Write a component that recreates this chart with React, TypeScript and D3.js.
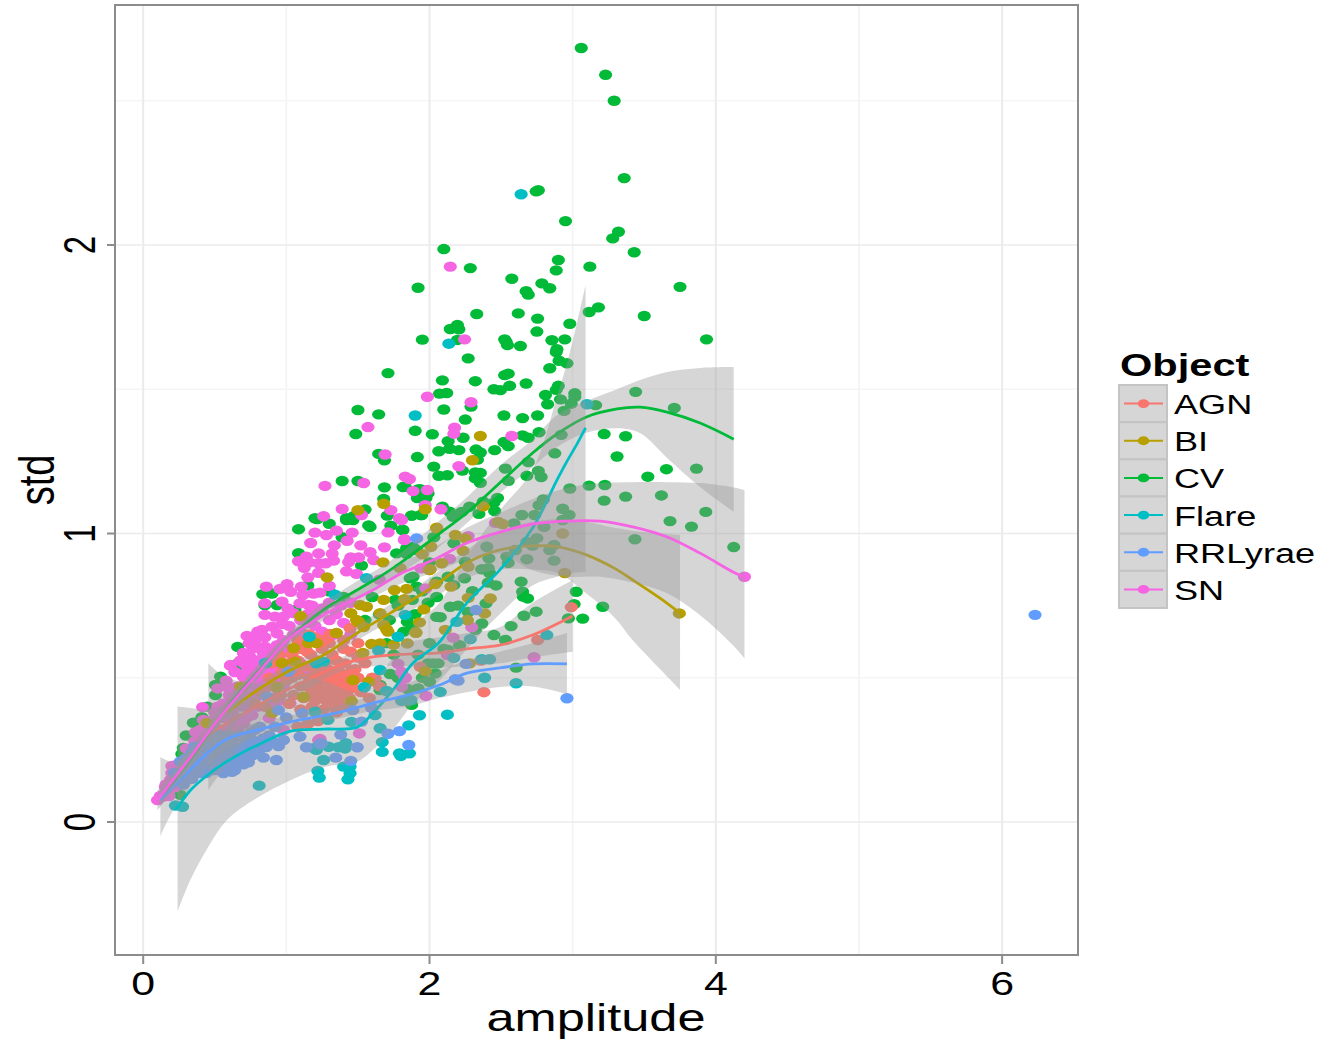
import * as d3 from "d3";

const WIDTH = 1326;
const HEIGHT = 1040;
const PANEL = { left: 115, right: 1078, top: 5, bottom: 955 };
const FONT = '"Liberation Sans", Arial, sans-serif';

const X_DOMAIN = [-0.197, 6.53];
const Y_DOMAIN = [-0.461, 2.832];
const X_MAJOR = [0, 2, 4, 6];
const X_MINOR = [1, 3, 5];
const Y_MAJOR = [0, 1, 2];
const Y_MINOR = [0.5, 1.5, 2.5];

const CLASSES = ["AGN", "BI", "CV", "Flare", "RRLyrae", "SN"];
const COLORS = ["#F8766D", "#B79F00", "#00BA38", "#00BFC4", "#619CFF", "#F564E3"];

type Pt = [number, number];

const CV_POINTS: Pt[] = [
  [3.06,2.683],[3.23,2.59],[3.29,2.5],[3.36,2.232],[2.76,2.19],[2.745,2.186],[2.95,2.083],[3.32,2.046],[3.28,2.023],[3.43,1.975],
  [2.9,1.948],[2.885,1.912],[3.12,1.925],[2.575,1.883],[2.785,1.867],[2.84,1.85],[2.675,1.84],[2.69,1.828],[3.75,1.855],[2.62,1.763],
  [2.755,1.745],[2.98,1.727],[3.115,1.768],[3.18,1.784],[3.5,1.754],[2.75,1.7],[3.935,1.673],[2.855,1.67],[2.945,1.673],[2.525,1.673],
  [2.1,1.986],[2.285,1.92],[1.92,1.852],[2.33,1.761],[2.195,1.723],[2.145,1.709],[2.205,1.708],[1.95,1.672],[2.195,1.671],[2.545,1.653],
  [2.535,1.665],[2.635,1.65],[2.89,1.639],[2.885,1.629],[2.27,1.607],[2.905,1.599],[2.96,1.59],[2.84,1.573],[2.09,1.531],[2.32,1.528],
  [2.525,1.549],[2.55,1.554],[2.675,1.52],[2.56,1.512],[2.45,1.5],[2.495,1.497],[2.07,1.485],[2.12,1.487],[2.9,1.512],[2.885,1.498],
  [2.81,1.48],[3.015,1.486],[3.015,1.474],[2.915,1.465],[2.99,1.45],[2.825,1.448],[2.94,1.425],[3.16,1.445],[3.44,1.491],[3.71,1.435],
  [2.29,1.44],[2.1,1.43],[2.25,1.395],[2.52,1.409],[2.65,1.4],[2.755,1.409],[1.9,1.356],[2.02,1.344],[2.235,1.332],[2.65,1.34],
  [2.69,1.332],[2.765,1.351],[2.92,1.342],[3.22,1.345],[3.37,1.337],[2.13,1.32],[2.14,1.294],[2.205,1.289],[2.065,1.285],[2.325,1.291],
  [2.355,1.281],[2.455,1.289],[2.52,1.317],[2.55,1.303],[2.875,1.278],[3.31,1.267],[2.335,1.256],[1.915,1.265],[2.03,1.232],[2.23,1.218],
  [2.53,1.225],[2.69,1.248],[2.76,1.217],[2.68,1.2],[2.78,1.196],[2.55,1.183],[2.065,1.2],[2.125,1.202],[2.32,1.212],[2.355,1.21],
  [2.32,1.191],[2.355,1.176],[3.655,1.223],[3.865,1.225],[3.525,1.197],[2.98,1.156],[3.115,1.166],[3.225,1.168],[3.22,1.114],[3.37,1.128],
  [3.62,1.132],[3.93,1.075],[3.68,1.043],[3.83,1.024],[2.795,1.118],[2.765,1.098],[2.93,1.086],[2.975,1.064],[2.93,1.047],[2.735,1.064],
  [2.645,1.064],[2.59,1.035],[2.475,1.123],[2.45,1.107],[2.375,1.11],[2.455,1.078],[2.345,1.068],[2.28,1.093],[2.225,1.075],[2.165,1.058],
  [2.14,1.076],[2.09,1.093],[1.875,1.062],[1.94,1.064],[1.99,1.139],[1.92,1.153],[1.915,1.123],[1.825,1.162],[1.815,1.012],[1.5,1.428],
  [1.645,1.413],[1.485,1.345],[1.645,1.276],[1.685,1.254],[1.71,1.556],[1.39,1.182],[1.5,1.182],[1.685,1.16],[1.83,1.162],[1.68,1.12],
  [1.55,1.083],[1.2,1.053],[1.42,1.053],[1.47,1.06],[1.705,1.062],[1.085,1.015],[1.215,1.05],[1.3,1.034],[1.42,1.047],[1.465,1.047],
  [1.575,1.028],[1.39,0.987],[1.085,0.932],[1.525,0.889],[0.835,0.79],[0.9,0.792],[0.85,0.752],[0.935,0.752],[0.66,0.607],[0.665,0.544],
  [0.665,0.551],[0.505,0.475],[0.505,0.44],[0.54,0.504],[0.41,0.363],[0.35,0.344],[0.28,0.257],[0.27,0.236],[0.26,0.094],[1.06,0.735],
  [3.435,0.98],[4.125,0.953],[2.87,0.96],[2.87,0.906],[2.68,0.911],[2.84,0.943],[2.72,0.958],[2.8,1.023],[2.75,0.984],[2.68,0.971],
  [2.4,0.954],[2.415,0.914],[2.54,0.92],[2.55,0.898],[2.6,0.943],[2.365,0.876],[2.41,0.88],[2.42,0.863],[2.64,0.833],[2.465,0.82],
  [2.41,0.83],[3.025,0.798],[3.01,0.755],[3.21,0.746],[3.07,0.705],[2.97,0.706],[2.65,0.798],[2.655,0.781],[2.685,0.775],[2.66,0.715],
  [2.745,0.729],[2.57,0.679],[2.45,0.648],[2.53,0.631],[2.605,0.535],[2.145,0.746],[2.075,0.71],[2.03,0.987],[2.17,0.966],[2.25,0.902],
  [2.245,0.845],[2.17,0.821],[2.13,0.85],[1.885,0.85],[1.865,0.845],[2.05,0.833],[1.99,0.76],[1.88,0.671],[1.845,0.694],[2.27,0.728],
  [2.395,0.758],[2.365,0.688],[2.32,0.666],[2.06,0.55],[2.025,0.55],[1.99,0.55],[2.04,0.515],[2.0,0.486],[1.875,0.406],[2.21,0.613],
  [2.13,0.596],[1.655,0.457],[1.92,0.463],[1.725,0.513],[1.77,0.931],[1.84,0.949],[1.91,0.943],[1.91,0.816],[1.76,0.77],[2.05,0.711],
  [1.655,0.475],[1.19,0.44],[1.875,1.062],[1.945,1.064],[1.73,1.027],[1.81,1.013],[1.585,1.023],[1.935,1.154],[1.975,1.123],[1.815,1.161],
  [1.885,0.953],[1.84,0.93],[1.6,0.78],[1.65,0.72],[1.72,0.7],[1.78,0.75],[1.82,0.66],[1.9,0.72],[1.55,0.7],[1.95,0.8],
  [1.88,0.77],[2.0,0.9],[1.7,0.62],[1.75,0.58],[1.78,0.5],[1.85,0.46],[1.95,0.5],[1.92,0.58],[2.0,0.62],[2.1,0.6],
  [2.05,0.78],[2.2,0.75],[2.3,0.8],[1.15,0.82],[1.3,0.8],[1.4,0.78],[0.45,0.4],[0.3,0.3],
];

const SN_POINTS: Pt[] = [
  [2.145,1.925],[2.245,1.673],[1.985,1.474],[2.29,1.455],[2.175,1.367],[2.17,1.346],[2.575,1.338],[2.205,1.233],[1.885,1.147],[1.985,1.151],
  [1.83,1.197],[1.86,1.189],[1.97,1.098],[2.08,1.084],[2.46,1.037],[1.57,1.369],[1.69,1.274],[1.54,1.175],[1.27,1.165],[1.73,1.081],
  [1.39,1.085],[1.525,1.064],[1.26,1.06],[1.79,1.053],[1.2,1.003],[1.35,1.01],[1.28,0.995],[1.46,1.003],[1.425,0.975],[1.17,0.967],
  [1.335,0.959],[1.52,0.959],[1.225,0.931],[1.32,0.93],[1.585,0.935],[1.14,0.92],[1.45,0.917],[1.505,0.917],[1.085,0.904],[1.16,0.9],
  [1.225,0.897],[1.275,0.897],[1.33,0.906],[1.435,0.901],[1.61,0.908],[1.125,0.881],[1.225,0.864],[1.42,0.869],[1.49,0.86],[1.15,0.848],
  [1.3,0.818],[0.86,0.816],[0.955,0.808],[1.005,0.824],[1.03,0.798],[1.105,0.816],[1.115,0.787],[1.19,0.792],[1.235,0.795],[0.85,0.758],
  [0.97,0.764],[1.095,0.758],[1.01,0.74],[1.155,0.752],[0.85,0.718],[0.92,0.712],[0.98,0.712],[1.05,0.724],[0.83,0.666],[0.9,0.677],
  [0.97,0.686],[0.725,0.645],[0.78,0.631],[0.85,0.64],[0.935,0.654],[0.71,0.579],[0.77,0.602],[0.85,0.608],[0.61,0.542],[0.7,0.551],
  [0.745,0.573],[0.415,0.398],[0.52,0.463],[0.61,0.544],[0.2,0.194],[0.3,0.255],[0.365,0.311],[0.42,0.354],[0.48,0.342],[0.585,0.469],
  [0.155,0.122],[0.1,0.076],[0.14,0.088],[0.19,0.146],[0.27,0.192],[0.305,0.222],[0.435,0.308],[0.515,0.365],[0.56,0.411],[0.655,0.469],
  [0.7,0.503],[0.745,0.561],[0.745,0.516],[0.84,0.527],[0.91,0.573],[1.03,0.586],[0.84,0.586],[0.7,0.586],[0.795,0.608],[0.935,0.613],
  [1.095,0.613],[0.865,0.482],[0.98,0.469],[1.21,0.561],[1.145,0.516],[1.235,0.504],[0.885,0.412],[1.025,0.412],[1.235,0.288],[0.875,0.278],
  [0.98,0.319],[1.2,0.68],[1.25,0.66],[1.3,0.7],[1.33,0.65],[1.15,0.69],[1.1,0.66],[1.35,0.72],[1.4,0.69],[1.45,0.65],
  [1.3,0.64],[1.825,0.977],[1.94,0.879],[2.14,0.912],[2.27,0.991],[1.975,0.81],[1.805,1.047],[1.83,0.498],[1.975,0.437],[1.71,1.004],
  [1.825,0.98],[1.685,0.952],[2.295,0.675],[2.165,0.639],[2.73,0.571],[2.125,0.579],[1.51,0.307],[1.225,0.284],[1.805,0.469],[1.805,0.52],
  [1.83,0.501],[1.78,0.548],[4.2,0.85],[1.65,0.84],
  [0.2,0.14],[0.24,0.17],[0.28,0.2],[0.33,0.2],[0.38,0.27],[0.42,0.3],[0.47,0.32],[0.5,0.38],[0.54,0.36],[0.58,0.4],
  [0.6,0.44],[0.64,0.42],[0.68,0.47],[0.72,0.48],[0.75,0.53],[0.8,0.5],[0.83,0.55],[0.88,0.55],[0.92,0.6],[0.96,0.58],
  [1.0,0.6],[1.05,0.65],[1.1,0.63],[1.15,0.72],[1.2,0.72],[1.25,0.74],[1.3,0.76],[1.38,0.75],[1.45,0.76],[0.6,0.33],
  [0.66,0.36],[0.72,0.4],[0.78,0.43],[0.84,0.45],[0.92,0.52],[0.5,0.28],[0.44,0.26],[0.38,0.22],[0.3,0.18],[0.25,0.13],
  [0.18,0.11],[0.22,0.12],[0.12,0.09],[0.15,0.1],[0.7,0.34],[0.55,0.32],[0.62,0.38],[0.76,0.37],[0.8,0.66],[0.74,0.62],
  [0.68,0.56],[0.64,0.52],[0.58,0.49],[0.7,0.44],[0.78,0.47],[0.85,0.44],[0.9,0.48],[0.95,0.5],[0.75,0.41],[0.65,0.42],
  [0.88,0.36],[0.95,0.42],[1.05,0.52],[1.1,0.55],[1.0,0.54],
  [0.16,0.13],[0.2,0.17],[0.24,0.2],[0.26,0.16],[0.3,0.22],[0.34,0.25],[0.36,0.28],[0.4,0.28],[0.4,0.32],[0.45,0.35],
  [0.46,0.29],[0.5,0.33],[0.52,0.4],[0.55,0.38],[0.58,0.36],[0.6,0.4],[0.63,0.46],[0.66,0.44],[0.68,0.4],[0.7,0.47],
  [0.72,0.52],[0.74,0.44],[0.78,0.53],[0.8,0.56],[0.82,0.49],[0.86,0.52],[0.88,0.6],[0.9,0.58],[0.94,0.55],[0.98,0.63],
  [1.02,0.68],[1.06,0.6],[1.1,0.7],[1.18,0.75],[0.62,0.34],[0.66,0.32],[0.72,0.36],[0.8,0.4],[0.86,0.4],[0.54,0.3],
  [0.48,0.26],[0.43,0.23],[0.36,0.2],[0.18,0.09],
];

const AGN_POINTS: Pt[] = [
  [1.38,0.49],[1.41,0.47],[1.44,0.46],[1.36,0.47],[1.3,0.46],[1.33,0.45],[1.47,0.49],[1.5,0.5],[1.43,0.51],[1.35,0.5],
  [1.28,0.49],[1.22,0.47],[1.18,0.45],[1.25,0.44],[1.31,0.43],[1.38,0.44],[1.44,0.43],[1.16,0.5],[1.1,0.47],[1.05,0.44],
  [1.12,0.54],[1.2,0.53],[1.27,0.55],[1.35,0.56],[1.41,0.55],[1.48,0.53],[1.0,0.49],[0.94,0.46],[0.97,0.52],[1.04,0.58],
  [1.1,0.6],[1.17,0.58],[1.25,0.6],[1.32,0.58],[1.4,0.6],[1.1,0.39],[1.18,0.4],[1.26,0.39],[1.02,0.41],[0.92,0.43],
  [0.85,0.4],[0.88,0.5],[1.16,0.65],[1.2,0.64],[1.55,0.55],[1.6,0.5],[1.65,0.47],[1.52,0.45],[1.58,0.43],[1.35,0.38],
  [1.42,0.4],[1.22,0.35],[1.15,0.34],[1.08,0.33],[1.5,0.62],[1.305,0.652],[1.445,0.672],[1.145,0.59],[1.62,0.498],[1.34,0.4],
  [2.99,0.745],[2.755,0.631],[2.38,0.45],[2.36,0.56],[1.935,0.538],
  [1.3,0.5],[1.33,0.52],[1.37,0.52],[1.4,0.5],[1.45,0.52],[1.42,0.48],[1.46,0.47],[1.39,0.46],[1.34,0.48],[1.31,0.51],
  [1.26,0.51],[1.24,0.53],[1.29,0.53],[1.23,0.5],[1.19,0.48],[1.14,0.47],[1.16,0.54],[1.08,0.51],[1.04,0.5],[0.96,0.44],
  [0.9,0.47],[1.12,0.43],[1.2,0.42],[1.28,0.42],[1.36,0.42],[1.0,0.55],[1.08,0.56],[1.15,0.62],[1.25,0.63],[1.3,0.62],
  [1.08,0.63],[1.45,0.59],[1.5,0.57],[0.95,0.58],[0.9,0.55],[0.82,0.45],[0.78,0.41],[1.4,0.63],
];

const BI_POINTS: Pt[] = [
  [2.355,1.338],[2.3,1.254],[2.375,1.094],[1.97,1.084],[2.48,1.04],[2.51,1.033],[2.05,1.02],[1.68,1.103],[1.5,1.081],[1.285,0.848],
  [2.93,1.0],[2.945,0.863],[3.745,0.723],[2.27,0.777],[2.425,0.775],[2.385,0.723],[2.11,0.666],[2.265,0.7],[1.93,0.692],[1.905,0.657],
  [1.84,0.808],[1.825,0.772],[1.96,0.737],[2.15,0.816],[2.04,0.825],[2.085,0.897],[2.01,0.954],[1.95,0.928],[2.005,0.876],[2.05,1.018],
  [2.18,0.995],[2.25,0.983],[2.235,0.94],[2.27,0.885],[2.28,0.55],[1.97,0.523],[1.575,0.486],[1.455,0.419],[1.75,0.614],[1.845,0.619],
  [1.595,0.617],[1.655,0.619],[1.7,0.668],[1.505,0.694],[1.68,0.683],[1.905,0.656],[1.675,0.9],[1.795,0.88],[2.0,0.873],[1.45,0.724],
  [1.5,0.693],[1.56,0.746],[1.68,0.77],[1.515,0.752],[1.755,0.804],[1.655,0.724],[1.54,0.676],[1.71,0.66],[1.49,0.7],[1.35,0.655],
  [1.155,0.62],[1.21,0.62],[1.05,0.603],[1.06,0.556],[0.97,0.551],[0.68,0.469],[0.445,0.343],[1.12,0.434],[0.935,0.469],[0.9,0.378],
  [1.535,0.586],[1.465,0.492],[1.1,0.713],
];

const FLARE_POINTS: Pt[] = [
  [2.64,2.176],[2.135,1.658],[1.9,1.409],[3.1,1.448],[2.82,0.648],[2.605,0.481],[2.385,0.5],[2.075,0.451],[1.93,0.37],[2.125,0.372],
  [2.19,0.694],[2.285,0.634],[2.365,0.564],[2.42,0.564],[2.17,0.569],[1.84,0.423],[1.855,0.335],[1.655,0.325],[1.67,0.277],[1.67,0.243],
  [1.79,0.238],[1.8,0.229],[1.86,0.238],[1.62,0.371],[1.455,0.347],[1.415,0.273],[1.365,0.259],[1.41,0.255],[1.295,0.261],[1.21,0.25],
  [1.26,0.215],[1.445,0.192],[1.4,0.192],[1.22,0.177],[1.23,0.154],[1.445,0.169],[1.43,0.148],[1.805,0.42],[1.87,0.423],[1.545,0.467],
  [1.7,0.454],[1.78,0.642],[1.645,0.594],[1.655,0.527],[0.225,0.057],[0.275,0.053],[0.81,0.126],[1.16,0.642],[1.34,0.788],[1.21,0.55],
  [1.26,0.556],[0.855,0.551],[1.2,0.382],[1.19,0.256],[1.56,0.845],[1.83,0.718],[1.29,0.354],
];

const RR_POINTS: Pt[] = [
  [6.23,0.718],[2.96,0.429],[2.18,0.495],[2.325,0.735],[2.255,0.548],[1.91,0.983],[1.79,0.315],[1.71,0.306],[1.855,0.267],[1.525,0.348],
  [1.38,0.303],[1.495,0.259],[1.235,0.27],[1.14,0.259],[1.345,0.223],[1.45,0.212],[1.465,0.388],[1.595,0.396],[2.2,0.49],
  [0.28,0.16],[0.32,0.19],[0.36,0.22],[0.4,0.17],[0.44,0.21],[0.48,0.18],[0.52,0.2],[0.56,0.17],[0.6,0.22],[0.64,0.18],
  [0.66,0.24],[0.7,0.2],[0.72,0.27],[0.76,0.23],[0.8,0.26],[0.84,0.29],[0.26,0.21],[0.22,0.17],[0.34,0.15],[0.815,0.252],
  [0.84,0.223],[0.735,0.207],[0.93,0.215],[0.62,0.174],[0.98,0.284],[0.945,0.263],[1.015,0.521],[0.865,0.434],[0.945,0.388],[1.0,0.362],
  [1.11,0.377],[1.095,0.296],[1.245,0.273],[0.815,0.33],[0.725,0.284],[0.63,0.25],[0.56,0.284],[0.465,0.261],[0.4,0.226],[0.33,0.192],
  [0.255,0.14],[0.515,0.192],
  [0.3,0.17],[0.36,0.17],[0.42,0.19],[0.46,0.2],[0.5,0.18],[0.55,0.19],[0.58,0.2],[0.62,0.2],[0.68,0.22],[0.74,0.24],
  [0.78,0.28],[0.7,0.26],[0.64,0.26],[0.58,0.25],[0.52,0.24],[0.46,0.24],[0.4,0.25],[0.34,0.24],[0.3,0.22],[0.88,0.3],
  [0.92,0.33],[0.75,0.31],[0.68,0.3],[0.6,0.3],[0.53,0.3],[0.48,0.3],
  [0.24,0.14],[0.28,0.13],[0.32,0.16],[0.38,0.19],[0.44,0.17],[0.5,0.21],[0.56,0.22],[0.62,0.23],[0.66,0.2],[0.72,0.22],
  [0.78,0.25],[0.86,0.26],[0.9,0.28],[0.36,0.26],[0.42,0.27],[0.5,0.27],[0.56,0.26],[0.62,0.28],[0.7,0.29],[0.78,0.32],
];

// fitted smooths: amplitude, fit, lower band, upper band
const AGN_FIT = [
  [0.455,0.3,0.11,0.55],[0.585,0.343,0.2,0.5],[0.91,0.433,0.39,0.48],[1.145,0.492,0.46,0.525],[1.375,0.544,0.52,0.57],[1.605,0.572,0.54,0.605],
  [1.845,0.582,0.54,0.625],[2.07,0.586,0.535,0.64],[2.26,0.6,0.54,0.655],[2.49,0.613,0.55,0.675],[2.72,0.648,0.57,0.76],[3.0,0.714,0.59,0.839],
];
const BI_FIT = [
  [0.585,0.378,0.3,0.445],[0.8,0.458,0.43,0.485],[1.03,0.527,0.505,0.55],[1.26,0.579,0.555,0.605],[1.495,0.655,0.63,0.68],[1.725,0.724,0.695,0.755],
  [2.025,0.815,0.775,0.855],[2.26,0.898,0.845,0.945],[2.49,0.943,0.875,1.01],[2.72,0.957,0.875,1.04],[2.91,0.953,0.86,1.05],[3.1,0.925,0.79,1.04],
  [3.29,0.88,0.71,1.02],[3.42,0.839,0.63,1.01],[3.61,0.776,0.53,1.0],[3.75,0.724,0.458,0.995],
];
const CV_FIT = [
  [0.12,0.087,0.06,0.115],[0.33,0.215,0.19,0.24],[0.56,0.38,0.355,0.405],[0.8,0.52,0.495,0.545],[1.03,0.641,0.62,0.665],[1.26,0.735,0.71,0.76],
  [1.495,0.804,0.775,0.835],[1.725,0.873,0.84,0.905],[2.07,1.0,0.955,1.045],[2.26,1.071,1.036,1.125],[2.49,1.175,1.14,1.235],[2.72,1.279,1.23,1.326],
  [2.89,1.345,1.3,1.41],[3.1,1.405,1.35,1.46],[3.31,1.432,1.365,1.5],[3.47,1.438,1.348,1.532],[3.66,1.421,1.262,1.56],[3.89,1.383,1.161,1.574],[4.125,1.327,1.075,1.577],
];
const FLARE_FIT = [
  [0.24,0.05,-0.31,0.4],[0.33,0.11,-0.2,0.395],[0.45,0.163,-0.09,0.39],[0.585,0.21,0.007,0.41],[0.8,0.267,0.085,0.44],[1.03,0.315,0.145,0.5],[1.26,0.322,0.19,0.49],
  [1.495,0.329,0.21,0.45],[1.605,0.378,0.25,0.49],[1.745,0.458,0.32,0.57],[1.885,0.551,0.41,0.68],[2.07,0.624,0.49,0.76],[2.26,0.759,0.6,0.92],
  [2.49,0.873,0.72,1.08],[2.72,1.019,0.82,1.22],[2.89,1.185,0.85,1.473],[2.96,1.25,0.86,1.59],[3.03,1.31,0.865,1.73],[3.09,1.366,0.867,1.861],
];
const RR_FIT = [
  [0.12,0.076,-0.05,0.225],[0.21,0.121,0.04,0.21],[0.45,0.239,0.19,0.29],[0.585,0.288,0.25,0.325],[0.8,0.319,0.295,0.345],[1.03,0.347,0.325,0.37],
  [1.375,0.381,0.36,0.405],[1.605,0.412,0.385,0.44],[1.845,0.44,0.4,0.48],[2.07,0.475,0.43,0.525],[2.26,0.516,0.45,0.56],[2.49,0.534,0.468,0.59],
  [2.72,0.548,0.47,0.62],[2.96,0.548,0.444,0.655],
];
const SN_FIT = [
  [0.1,0.076,0.04,0.11],[0.33,0.225,0.19,0.26],[0.56,0.378,0.35,0.405],[0.8,0.516,0.495,0.54],[1.03,0.641,0.62,0.66],[1.285,0.724,0.705,0.745],
  [1.605,0.804,0.78,0.83],[1.795,0.86,0.825,0.895],[2.025,0.908,0.865,0.95],[2.26,0.967,0.91,1.02],[2.49,1.005,0.93,1.071],[2.72,1.033,0.873,1.12],
  [2.96,1.043,0.85,1.158],[3.19,1.043,0.85,1.175],[3.42,1.023,0.83,1.178],[3.66,0.988,0.793,1.178],[3.89,0.932,0.717,1.175],[4.12,0.867,0.613,1.16],[4.2,0.849,0.568,1.15],
];

// drawing order of the point layers, index into CLASSES
const POINT_LAYERS: [number, Pt[]][] = [
  [2, CV_POINTS],
  [5, SN_POINTS],
  [0, AGN_POINTS],
  [1, BI_POINTS],
  [3, FLARE_POINTS],
  [4, RR_POINTS],
];
const FITS = [AGN_FIT, BI_FIT, CV_FIT, FLARE_FIT, RR_FIT, SN_FIT];

const x = d3.scaleLinear().domain(X_DOMAIN).range([PANEL.left, PANEL.right]);
const y = d3.scaleLinear().domain(Y_DOMAIN).range([PANEL.bottom, PANEL.top]);

const fitLine = d3
  .line<number[]>()
  .x((d) => x(d[0]))
  .y((d) => y(d[1]))
  .curve(d3.curveCatmullRom.alpha(0.5));
const fitBand = d3
  .area<number[]>()
  .x((d) => x(d[0]))
  .y0((d) => y(d[2]))
  .y1((d) => y(d[3]))
  .curve(d3.curveCatmullRom.alpha(0.5));

const legendY = d3.scaleBand<string>().domain(CLASSES).range([385, 608]);

export default function App() {
  return (
    <svg
      width={WIDTH}
      height={HEIGHT}
      style={{ position: "absolute", left: 0, top: 0, display: "block" }}
      fontFamily={FONT}
    >
      <rect width={WIDTH} height={HEIGHT} fill="#fff" />
      {X_MINOR.map((t) => (
        <line key={t} x1={x(t)} x2={x(t)} y1={PANEL.top} y2={PANEL.bottom} stroke="#F5F5F5" strokeWidth={2} />
      ))}
      {Y_MINOR.map((t) => (
        <line key={t} x1={PANEL.left} x2={PANEL.right} y1={y(t)} y2={y(t)} stroke="#F5F5F5" strokeWidth={1.5} />
      ))}
      {X_MAJOR.map((t) => (
        <line key={t} x1={x(t)} x2={x(t)} y1={PANEL.top} y2={PANEL.bottom} stroke="#EBEBEB" strokeWidth={2} />
      ))}
      {Y_MAJOR.map((t) => (
        <line key={t} x1={PANEL.left} x2={PANEL.right} y1={y(t)} y2={y(t)} stroke="#EBEBEB" strokeWidth={1.5} />
      ))}

      {POINT_LAYERS.map(([index, points]) => (
        <g key={index} fill={COLORS[index]}>
          {points.map((p, i) => (
            <ellipse key={i} cx={x(p[0])} cy={y(p[1])} rx={6.6} ry={5.2} />
          ))}
        </g>
      ))}

      {FITS.map((fit, i) => (
        <g key={CLASSES[i]}>
          <path d={fitBand(fit) ?? ""} fill="#999999" fillOpacity={0.4} />
          <path d={fitLine(fit) ?? ""} fill="none" stroke={COLORS[i]} strokeWidth={2.8} />
        </g>
      ))}

      <rect
        x={PANEL.left}
        y={PANEL.top}
        width={PANEL.right - PANEL.left}
        height={PANEL.bottom - PANEL.top}
        fill="none"
        stroke="#8C8C8C"
        strokeWidth={2}
      />

      {X_MAJOR.map((t) => (
        <g key={t}>
          <line x1={x(t)} x2={x(t)} y1={PANEL.bottom} y2={964} stroke="#8C8C8C" strokeWidth={2} />
          <text transform={`translate(${x(t)},995) scale(1.3,1)`} textAnchor="middle" fontSize={33}>
            {t}
          </text>
        </g>
      ))}
      {Y_MAJOR.map((t) => (
        <g key={t}>
          <line x1={107} x2={PANEL.left} y1={y(t)} y2={y(t)} stroke="#8C8C8C" strokeWidth={2} />
          <text transform={`translate(95,${y(t)}) scale(1.33,1) rotate(-90)`} textAnchor="middle" fontSize={33}>
            {t}
          </text>
        </g>
      ))}

      <text transform="translate(596,1031) scale(1.33,1)" textAnchor="middle" fontSize={38}>
        amplitude
      </text>
      <text transform="translate(54,480) scale(1.3,1) rotate(-90)" textAnchor="middle" fontSize={38}>
        std
      </text>

      <text transform="translate(1120,376) scale(1.3,1)" fontSize={32} fontWeight="bold">
        Object
      </text>
      {CLASSES.map((name, i) => {
        const top = legendY(name) ?? 0;
        const mid = top + legendY.bandwidth() / 2;
        return (
          <g key={name}>
            <rect x={1119} y={top} width={48} height={legendY.bandwidth()} fill="#D6D6D6" stroke="#C4C4C4" strokeWidth={2} />
            <line x1={1124} x2={1163} y1={mid} y2={mid} stroke={COLORS[i]} strokeWidth={2} />
            <ellipse cx={1143.5} cy={mid} rx={5.8} ry={4.4} fill={COLORS[i]} />
            <text transform={`translate(1174,${mid + 10.5}) scale(1.29,1)`} fontSize={28}>
              {name}
            </text>
          </g>
        );
      })}
    </svg>
  );
}
